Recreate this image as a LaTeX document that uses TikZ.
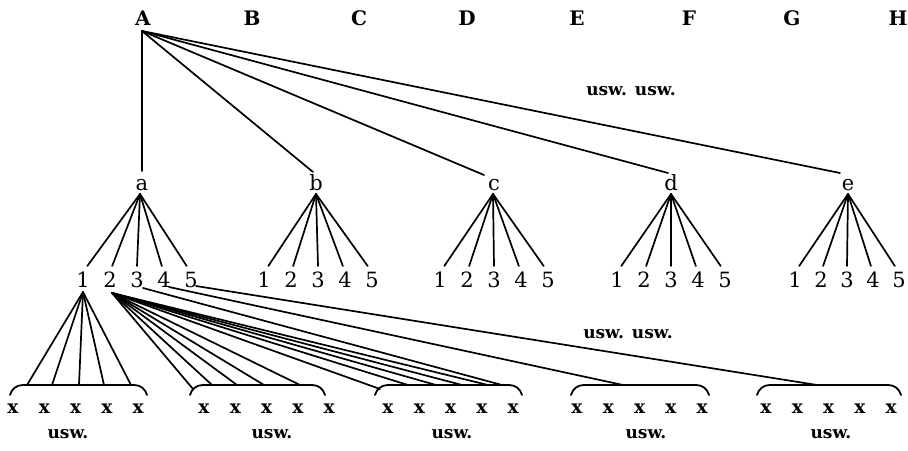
\documentclass[tikz,border=0pt]{standalone}
\usepackage{fontspec}
\setmainfont{DejaVu Serif}
\begin{document}
\begin{tikzpicture}[x=1pt,y=-1pt,
  cls/.style={font=\fontsize{20}{22}\selectfont\bfseries, inner sep=0pt, anchor=base},
  ord/.style={font=\fontsize{21}{22}\selectfont, inner sep=0pt, anchor=base},
  gen/.style={font=\fontsize{21}{22}\selectfont, inner sep=0pt, anchor=base},
  spc/.style={font=\fontsize{18.5}{20}\selectfont\bfseries, inner sep=0pt, anchor=base},
  etc/.style={font=\fontsize{17}{18}\selectfont\bfseries, inner sep=0pt, anchor=base},
  ln/.style={line width=1.7pt, line cap=round},
  brk/.style={line width=1.8pt, line cap=round}]
\useasboundingbox (0,0) rectangle (908,450);

% classes
\foreach \n/\x in {A/143,B/252,C/359,D/467,E/577,F/689,G/792,H/898}
  \node[cls] (\n) at (\x,25) {\n};
\coordinate (A-s) at (142,31);

% orders
\foreach \n/\x in {a/142,b/316,c/494,d/671,e/848}
  \node[ord] (\n) at (\x,190) {\n};
\foreach \n/\x/\y in {a/142/171,b/313/172,c/484/175,d/668/173,e/840/173}
  \coordinate (\n-in) at (\x,\y);
\foreach \n in {a,b,c,d,e}
  \draw[ln] (A-s) -- (\n-in);

\node[etc] (uu1) at (631,95) {usw. usw.};

% genera
\foreach \n/\ax/\c/\st in {a/140/137/27,b/316/318/27,c/493/494/27,d/671/671/27,e/848/847/26}{
  \coordinate (\n-s) at (\ax,194);
  \foreach \i/\m in {1/-2,2/-1,3/0,4/1,5/2}{
    \node[gen] (\n\i) at (\c+\m*\st,287) {\i};
    \coordinate (\n\i-in) at (\c+\m*\st*0.92,266);
    \draw[ln] (\n-s) -- (\n\i-in);
  }
}

% starting points below genera of a
\coordinate (g1-s) at (83,292);
\coordinate (g2-s) at (112,293);
\coordinate (g3-s) at (143,288);
\coordinate (g4-s) at (169,287);
\coordinate (g5-s) at (196,286);

% brackets with species
\foreach \k/\xa/\xb/\xs/\ux in {1/10/147/13/68,2/190/325/204/272,3/375/522/388/452,4/571/709/577/646,5/757/901/766/831}{
  \draw[brk] (\xa,395) to[out=75,in=180] (\xa+13,385) -- (\xb-13,385) to[out=0,in=105] (\xb,395);
  \foreach \i in {0,...,4}
    \node[spc] (s\k-\i) at (\xs+\i*31.3,413) {x};
  \node[etc] (u\k) at (\ux,438) {usw.};
}

% genus 1 -> bracket 1
\foreach \x in {27,52,79,104,131}
  \draw[ln] (g1-s) -- (\x,385);
% genus 2 -> brackets 2 and 3
\foreach \x/\y in {193/389,212/385,237/385,264/385,300/385,380/389,408/385,436/385,462/385,488/385}
  \draw[ln] (g2-s) -- (\x,\y);
% genera 3,4,5
\coordinate (g3-e) at (502,385);
\coordinate (g4-e) at (623,385);
\coordinate (g5-e) at (817,385);
\draw[ln] (g3-s) -- (g3-e);
\draw[ln] (g4-s) -- (g4-e);
\draw[ln] (g5-s) -- (g5-e);

\node[etc] (uu2) at (628,338) {usw. usw.};
\end{tikzpicture}
\end{document}
